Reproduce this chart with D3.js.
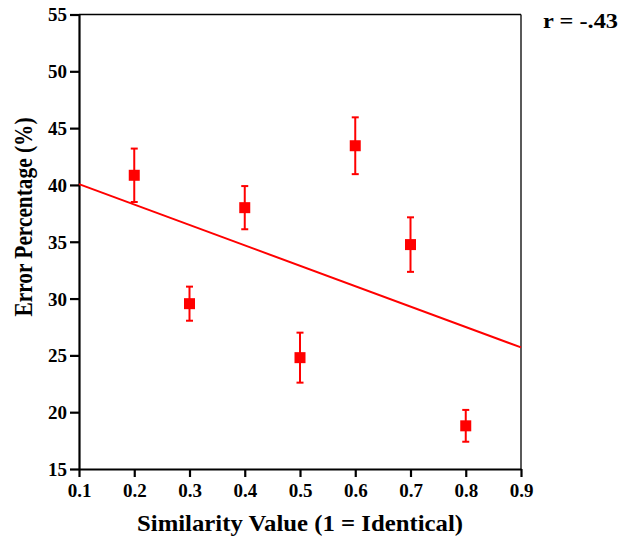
<!DOCTYPE html>
<html><head><meta charset="utf-8">
<script src="https://cdn.jsdelivr.net/npm/d3@7"></script>
<style>body{margin:0;background:#fff;} svg text{font-family:"Liberation Serif","Times New Roman",serif !important;font-weight:bold;}</style>
</head><body>
<svg id="c" width="621" height="537"></svg>
<script>
const similarity = [0.2, 0.3, 0.4, 0.5, 0.6, 0.7, 0.8];
const errorPct = [40.85, 29.55, 38.0, 24.8, 43.45, 34.75, 18.8];
const errorBar = [2.35, 1.5, 1.9, 2.2, 2.5, 2.4, 1.4];
const xTicks = [0.1, 0.2, 0.3, 0.4, 0.5, 0.6, 0.7, 0.8, 0.9];
const yTicks = [15, 20, 25, 30, 35, 40, 45, 50, 55];

const svg = d3.select("#c");
const L = 79, R = 521, T = 14.5, B = 469;
const x = d3.scaleLinear().domain([0.1, 0.9]).range([L, R]);
const y = d3.scaleLinear().domain([15, 55]).range([B, T]);
const red = "#ff0000";
const serif = '"Liberation Serif","Times New Roman",serif';

svg.append("line").attr("x1", L).attr("x2", R).attr("y1", T).attr("y2", T).attr("stroke", "#000").attr("stroke-width", 1.3);
svg.append("line").attr("x1", R).attr("x2", R).attr("y1", T).attr("y2", B).attr("stroke", "#000").attr("stroke-width", 1.3);

const xAxis = svg.append("g").attr("transform", `translate(0,${B})`)
  .call(d3.axisBottom(x).tickValues(xTicks).tickFormat(d3.format(".1f")).tickSize(8).tickSizeOuter(0));
const yAxis = svg.append("g").attr("transform", `translate(${L},0)`)
  .call(d3.axisLeft(y).tickValues(yTicks).tickFormat(d3.format("d")).tickSize(9).tickSizeOuter(0));
[xAxis, yAxis].forEach(g => {
  g.attr("font-family", serif).attr("font-weight", "bold");
  g.select(".domain").attr("stroke", "#000").attr("stroke-width", 2.2);
  g.selectAll(".tick line").attr("stroke", "#000").attr("stroke-width", 2.2);
  g.selectAll("text").attr("fill", "#000").style("font-size", "19px");
});
xAxis.selectAll("text").attr("dy", null).attr("y", 28);
yAxis.selectAll("text").attr("x", -12).attr("dy", "0.34em");

// regression line computed from data
const mx = d3.mean(similarity), my = d3.mean(errorPct);
const slope = d3.sum(similarity, (d, i) => (d - mx) * (errorPct[i] - my)) / d3.sum(similarity, d => (d - mx) ** 2);
const icpt = my - slope * mx;
svg.append("line").attr("x1", x(0.1)).attr("x2", x(0.9))
  .attr("y1", y(icpt + slope * 0.1)).attr("y2", y(icpt + slope * 0.9))
  .attr("stroke", red).attr("stroke-width", 2);

const g = svg.append("g");
similarity.forEach((s, i) => {
  const cx = x(s), hi = y(errorPct[i] + errorBar[i]), lo = y(errorPct[i] - errorBar[i]);
  g.append("line").attr("x1", cx).attr("x2", cx).attr("y1", hi).attr("y2", lo).attr("stroke", red).attr("stroke-width", 2);
  g.append("line").attr("x1", cx - 3.5).attr("x2", cx + 3.5).attr("y1", hi).attr("y2", hi).attr("stroke", red).attr("stroke-width", 2);
  g.append("line").attr("x1", cx - 3.5).attr("x2", cx + 3.5).attr("y1", lo).attr("y2", lo).attr("stroke", red).attr("stroke-width", 2);
  g.append("rect").attr("x", cx - 5.5).attr("y", y(errorPct[i]) - 5.5).attr("width", 11).attr("height", 11).attr("fill", red);
});

svg.append("text").attr("x", 300).attr("y", 531).attr("text-anchor", "middle").style("font-size", "23px")
  .attr("textLength", 326).attr("lengthAdjust", "spacingAndGlyphs").text("Similarity Value (1 = Identical)");
svg.append("text").attr("transform", "translate(32,217) rotate(-90)").attr("text-anchor", "middle").style("font-size", "25px")
  .attr("textLength", 199).attr("lengthAdjust", "spacingAndGlyphs").text("Error Percentage (%)");
svg.append("text").attr("x", 543).attr("y", 28).style("font-size", "22px")
  .attr("textLength", 75).attr("lengthAdjust", "spacingAndGlyphs").text("r = -.43");
</script>
</body></html>
